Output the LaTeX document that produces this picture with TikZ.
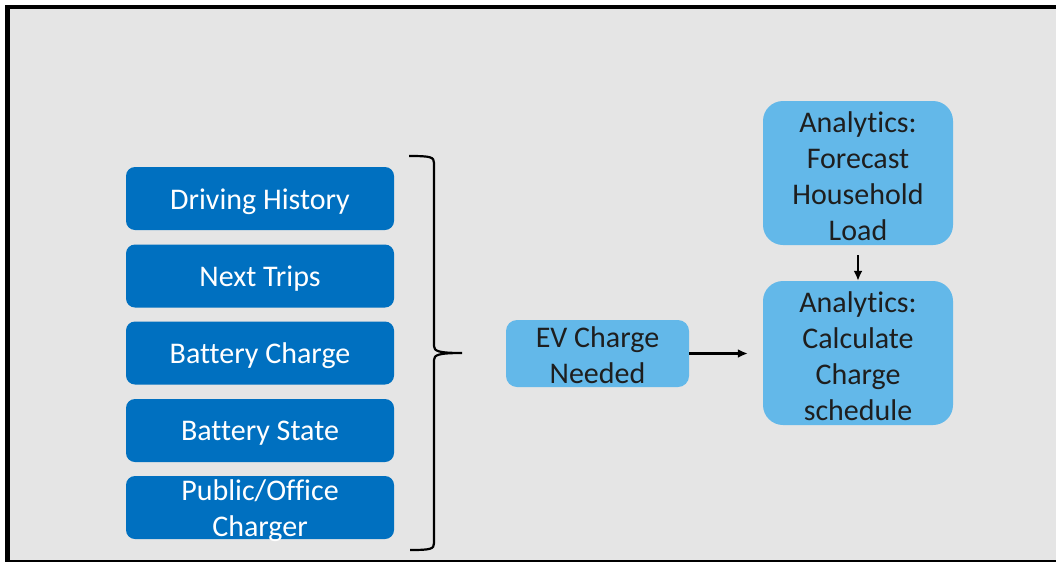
\documentclass[tikz,border=0pt]{standalone}
\usepackage{fontspec}
\setmainfont{Carlito}[Ligatures=NoCommon]
\usetikzlibrary{arrows.meta}
\definecolor{bggray}{HTML}{E5E5E5}
\definecolor{darkblue}{HTML}{0070C0}
\definecolor{lightblue}{HTML}{63B8E9}
\definecolor{darktext}{HTML}{1E1E1E}
\tikzset{
  lbox/.style={fill=darkblue, rounded corners=9pt, minimum width=268pt, minimum height=63pt, inner sep=0pt},
  rbox/.style={fill=lightblue, rounded corners=20pt, minimum width=190pt, minimum height=144pt, inner sep=0pt},
  evbox/.style={fill=lightblue, rounded corners=11pt, minimum width=183pt, minimum height=67pt, inner sep=0pt},
  ltext/.style={text=white, align=center, inner sep=0pt, font=\fontsize{30}{36}\selectfont},
  rtext/.style={text=darktext, align=center, inner sep=0pt, font=\fontsize{30}{36}\selectfont},
  arr/.style={draw=black, line width=2.2pt, -{Latex[length=10pt,width=9pt]}},
  bracestyle/.style={draw=black, line width=2.2pt}
}
\begin{document}
\begin{tikzpicture}[x=1pt,y=-1pt]
\useasboundingbox (0,0) rectangle (1056,562);
\fill[white] (0,0) rectangle (1056,562);
\fill[bggray] (10,9) rectangle (1056,560);
\fill[black] (5,5) rectangle (1056,9);
\fill[black] (5,5) rectangle (10,562);
\fill[black] (5,560) rectangle (1056,562);

\node[lbox] (dh) at (260,198.5) {};
\node[ltext] (dht) at ([yshift=-3pt]dh.center) {Driving History};
\node[lbox] (nt) at (260,276) {};
\node[ltext] (ntt) at ([yshift=-3pt]nt.center) {Next Trips};
\node[lbox] (bc) at (260,353) {};
\node[ltext] (bct) at ([yshift=-3pt]bc.center) {Battery Charge};
\node[lbox] (bs) at (260,430.5) {};
\node[ltext] (bst) at ([yshift=-3pt]bs.center) {Battery State};
\node[lbox] (po) at (260,507.5) {};
\node[ltext] (pot) at ([yshift=-3pt]po.center) {Public/Office\\Charger};

\node[evbox] (ev) at (597.5,353.5) {};
\node[rtext] (evt) at ([yshift=-2pt]ev.center) {EV Charge\\Needed};
\node[rbox] (fc) at (858,173) {};
\node[rtext] (fct) at ([yshift=-3pt]fc.center) {Analytics:\\Forecast\\Household\\Load};
\node[rbox] (cs) at (858,353) {};
\node[rtext] (cst) at ([yshift=-3pt]cs.center) {Analytics:\\Calculate\\Charge\\schedule};

\draw[arr, shorten >=15pt] (ev.east) -- (cs.west |- ev.east);
\draw[arr, shorten <=10pt] (fc.south) -- (cs.north);

\draw[bracestyle] (409,156) .. controls (431,156) and (434,157) .. (434,163)
  -- (434,346) .. controls (434,351) and (438,353) .. (462,353)
  .. controls (438,353) and (434,355) .. (434,360)
  -- (434,543) .. controls (434,549) and (431,550) .. (410,550);
\end{tikzpicture}
\end{document}
